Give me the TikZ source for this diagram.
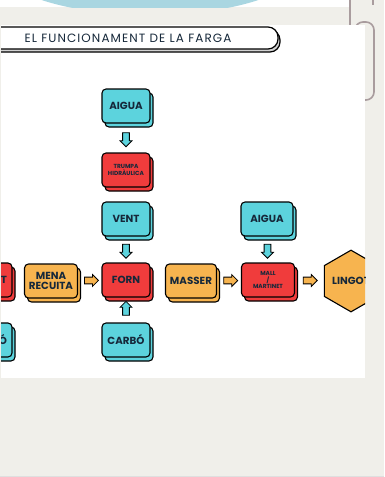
\documentclass[tikz,border=0pt]{standalone}
\usepackage{fontspec}
\setmainfont{Poppins}
\usepackage{tikz}
\usetikzlibrary{shapes.geometric,shapes.arrows,shadows}

\definecolor{fonsgris}{HTML}{F0EFEA}
\definecolor{blaucel}{HTML}{A9D6E1}
\definecolor{clipgris}{HTML}{A99C9E}
\definecolor{cian}{HTML}{5CD3DD}
\definecolor{vermell}{HTML}{F03C3C}
\definecolor{taronja}{HTML}{F7B44F}
\definecolor{tinta}{HTML}{16283A}

\begin{document}
\begin{tikzpicture}[
                    x=1pt,
                    y=-1pt,
                    font=\bfseries\fontsize{10.3}{10.5}\selectfont,
                    text=tinta
                ]
                \tikzstyle{caixa}=[
                    rectangle,
                    rounded corners=4pt,
                    draw=black,
                    line width=1.1pt,
                    minimum width=48pt,
                    minimum height=34pt,
                    inner sep=1pt,
                    align=center,
                    copy shadow={shadow xshift=3pt, shadow yshift=-4pt}
                ]
                \tikzstyle{caixa cian}=[caixa, fill=cian]
                \tikzstyle{caixa vermella}=[caixa, fill=vermell]
                \tikzstyle{caixa taronja}=[caixa, fill=taronja]
                \tikzstyle{petit}=[font=\bfseries\fontsize{5.9}{6.8}\selectfont]
                \tikzstyle{fletxa}=[
                    single arrow,
                    draw=black,
                    line width=0.8pt,
                    minimum height=14pt,
                    minimum width=12pt,
                    single arrow head extend=2.5pt,
                    inner sep=2.8pt
                ]

                \useasboundingbox (0,0) rectangle (384,477);
                \fill[fonsgris] (0,0) rectangle (384,477);
                \draw[gray!25, line width=1pt] (0,476.5) -- (384,476.5);

                \begin{scope}
                    \clip (0,0) rectangle (349,7);
                    \fill[white] (0,0) rectangle (349,7);
                    \fill[blaucel] (150,-40) ellipse [x radius=158, y radius=55];
                \end{scope}

                \draw[clipgris, line width=1.6pt] (350,0) -- (350,40);
                \draw[clipgris, line width=1.6pt] (373,0) -- (373,5);
                \draw[clipgris, line width=1.6pt, rounded corners=8pt]
                    (355,40) -- (355,22) -- (374,22) -- (374,100) -- (355,100);

                \fill[white] (1,25) rectangle (365,378);

                \begin{scope}
                \clip (1,25) rectangle (365,378);

                \node[
                    rectangle,
                    rounded corners=10pt,
                    draw=black,
                    line width=1.2pt,
                    fill=white,
                    minimum width=300pt,
                    minimum height=22pt,
                    copy shadow={shadow xshift=2pt, shadow yshift=-3pt, fill=gray!35},
                    font=\mdseries\fontsize{12}{13}\selectfont\addfontfeature{LetterSpace=9}
                ] (titol) at (128,38) {EL FUNCIONAMENT DE LA FARGA};

                \node[caixa cian] (aigua) at (126,106) {AIGUA};
                \node[caixa vermella, petit] (trompa) at (126,170) {TRUMPA\\HIDRÀULICA};
                \node[caixa cian] (vent) at (126,219) {VENT};
                \node[caixa vermella] (forn) at (126,280) {FORN};
                \node[caixa cian] (carbo) at (126,340) {CARBÓ};
                \node[caixa taronja, minimum width=53pt] (mena) at (51,281) {MENA\\RECUITA};
                \node[caixa vermella, text width=38pt, align=right] (anterior) at (-12,280) {T};
                \node[caixa cian, text width=38pt, align=right] (carboesq) at (-12,340) {Ó};
                \node[caixa taronja, minimum width=51pt] (masser) at (191,281) {MASSER};
                \node[caixa cian, minimum width=52pt] (aiguamall) at (267,219) {AIGUA};
                \node[caixa vermella, petit, minimum width=53pt] (mall) at (268,280) {MALL\\/\\MARTINET};
                \node[
                    regular polygon,
                    regular polygon sides=6,
                    shape border rotate=30,
                    minimum size=58pt,
                    inner sep=0pt,
                    draw=black,
                    line width=1.1pt,
                    fill=taronja
                ] (lingot) at (351,281) {LINGOT};

                \path
                (aigua) -- (trompa)
                    node [fletxa, fill=cian, midway, rotate=-90] {}
                (vent) -- (forn)
                    node [fletxa, fill=cian, midway, rotate=-90] {}
                (carbo) -- (forn)
                    node [fletxa, fill=cian, midway, rotate=90] {}
                (mena) -- (forn)
                    node [fletxa, fill=taronja, midway] {}
                (masser) -- (mall)
                    node [fletxa, fill=taronja, midway] {}
                (aiguamall) -- (mall)
                    node [fletxa, fill=cian, midway, rotate=-90] {}
                (mall) -- (lingot)
                    node [fletxa, fill=taronja, pos=0.47] {}
                ;
                \end{scope}
            \end{tikzpicture}
\end{document}
